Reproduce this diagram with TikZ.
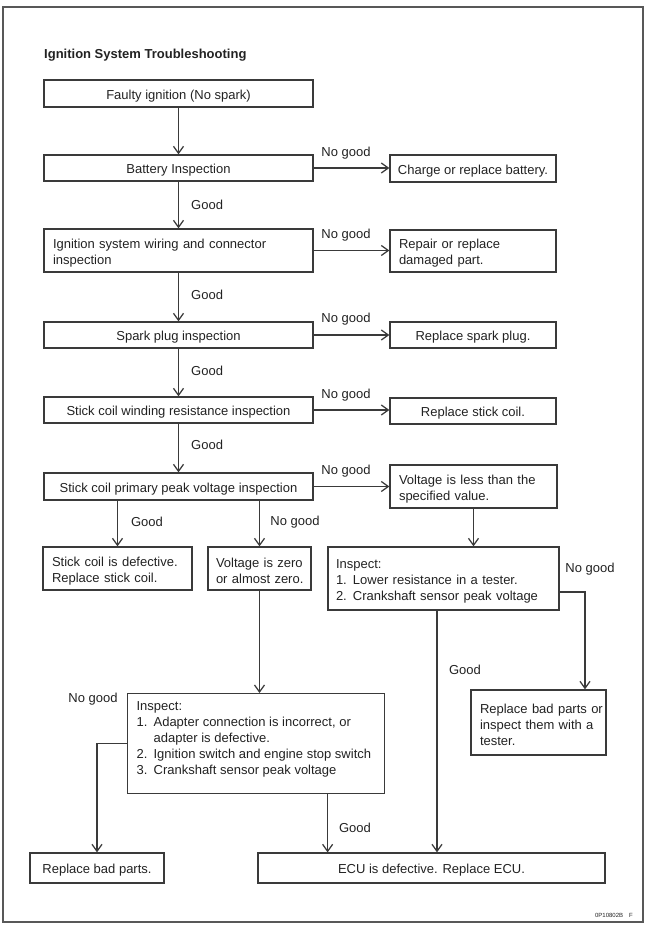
\documentclass[tikz,border=0pt]{standalone}
\usepackage{fontspec}
\setmainfont{Liberation Sans}
\usetikzlibrary{arrows.meta}
\definecolor{ink}{HTML}{3A3A3A}
\definecolor{txt}{HTML}{222222}
\newcommand\itm[1]{\makebox[17pt][l]{#1}}
\begin{document}
\begin{tikzpicture}[x=1pt,y=-1pt,
  every node/.style={font=\fontsize{13}{16}\selectfont, text=txt},
  frame/.style={draw=ink, line width=1.25pt, rectangle, inner sep=0pt},
  box/.style={frame, align=center, text height=14pt},
  lbox/.style={box, align=left, inner xsep=9pt},
  lab/.style={inner sep=0pt},
  arr/.style={draw=ink, line width=1.25pt, -{Straight Barb[length=7pt,width=10pt]}}]
\useasboundingbox (0,0) rectangle (650,929);
\draw[draw=ink!85, line width=1.25pt] (3,7) rectangle (643,922);

\node[font=\bfseries\fontsize{13}{16}\selectfont, anchor=west, inner sep=0pt] (title) at (44,55) {Ignition System Troubleshooting};

\node[box, minimum width=269pt, minimum height=27pt] (b1) at (178.5,93.5) {Faulty ignition (No spark)};
\node[box, minimum width=269pt, minimum height=26pt] (b2) at (178.5,168) {Battery Inspection};
\node[box, minimum width=166pt, minimum height=27pt] (r2) at (473,168.5) {Charge or replace battery.};
\node[lbox, text width=251pt, minimum height=43pt] (b3) at (178.5,250.5) {\mbox{Ignition system wiring and connector}\\inspection};
\node[lbox, text width=148pt, minimum height=42pt] (r3) at (473,251) {\mbox{Repair or replace}\\\mbox{damaged part.}};
\node[box, minimum width=269pt, minimum height=26pt] (b4) at (178.5,335) {Spark plug inspection};
\node[box, minimum width=166pt, minimum height=26pt] (r4) at (473,335) {Replace spark plug.};
\node[box, minimum width=269pt, minimum height=26pt] (b5) at (178.5,410) {Stick coil winding resistance inspection};
\node[box, minimum width=166pt, minimum height=26pt] (r5) at (473,411) {Replace stick coil.};
\node[box, minimum width=269pt, minimum height=27pt] (b6) at (178.5,486.5) {Stick coil primary peak voltage inspection};
\node[lbox, text width=149pt, minimum height=43pt] (r6) at (473.5,486.5) {\mbox{Voltage is less than the}\\\mbox{specified value.}};
\node[lbox, text width=131pt, minimum height=43pt] (c1) at (117.5,568.5) {\mbox{Stick coil is defective.}\\\mbox{Replace stick coil.}};
\node[lbox, text width=87pt, minimum height=43pt, inner xsep=8pt] (c2) at (259.5,568.5) {\mbox{Voltage is zero}\\\mbox{or almost zero.}};
\node[lbox, text width=215pt, minimum height=63pt, inner xsep=8pt] (c3) at (443.5,578.5) {Inspect:\\\mbox{\itm{1.}Lower resistance in a tester.}\\\mbox{\itm{2.}Crankshaft sensor peak voltage}};
\node[lbox, text width=117pt, minimum height=65pt] (d1) at (538.5,722.5) {\mbox{Replace bad parts or}\\\mbox{inspect them with a}\\tester.};
\node[frame, inner xsep=9pt, inner ysep=0pt, anchor=north west] (d2) at (127,693) {\parbox[c][100pt][t]{239pt}{\raggedright\vspace*{7.5pt}Inspect:\\
\mbox{\itm{1.}Adapter connection is incorrect, or}\\
\mbox{\hspace*{17pt}adapter is defective.}\\
\mbox{\itm{2.}Ignition switch and engine stop switch}\\
\mbox{\itm{3.}Crankshaft sensor peak voltage}}};
\node[box, minimum width=134pt, minimum height=30pt] (e1) at (97,868) {Replace bad parts.};
\node[box, minimum width=347pt, minimum height=30pt] (e2) at (431.5,868) {ECU is defective. Replace ECU.};

% connectors
\draw[arr] (b1.south) -- (b2.north);
\draw[arr] (b2.south) -- (b3.north);
\draw[arr] (b3.south) -- (b4.north);
\draw[arr] (b4.south) -- (b5.north);
\draw[arr] (b5.south) -- (b6.north);
\draw[arr] (b2.east) -- (b2.east -| r2.west);
\draw[arr] (b3.east) -- (b3.east -| r3.west);
\draw[arr] (b4.east) -- (b4.east -| r4.west);
\draw[arr] (b5.east) -- (b5.east -| r5.west);
\draw[arr] (b6.east) -- (b6.east -| r6.west);
\draw[arr] (c1.north |- b6.south) -- (c1.north);
\draw[arr] (c2.north |- b6.south) -- (c2.north);
\draw[arr] (r6.south) -- (r6.south |- c3.north);
\draw[arr] ([yshift=-13.5pt]c3.east) -| ([xshift=46.5pt]d1.north);
\draw[arr] ([xshift=-6.5pt]c3.south) -- ([xshift=-6.5pt]c3.south |- e2.north);
\draw[arr] (c2.south) -- (c2.south |- d2.north);
\draw[arr] (d2.west) -| (e1.north);
\draw[arr] ([xshift=71.5pt]d2.south) -- ([xshift=71.5pt]d2.south |- e2.north);

% labels
\node[lab] (n1) at (346,153) {No good};
\node[lab] (n2) at (346,235) {No good};
\node[lab] (n3) at (346,319) {No good};
\node[lab] (n4) at (346,395) {No good};
\node[lab] (n5) at (346,471) {No good};
\node[lab, anchor=west] (g1) at (191,205) {Good};
\node[lab, anchor=west] (g2) at (191,295) {Good};
\node[lab, anchor=west] (g3) at (191,371) {Good};
\node[lab, anchor=west] (g4) at (191,445) {Good};
\node[lab] (g5) at (147,522) {Good};
\node[lab] (n6) at (295,522) {No good};
\node[lab] (n7) at (590,569) {No good};
\node[lab] (g6) at (465,670) {Good};
\node[lab] (n8) at (93,699) {No good};
\node[lab] (g7) at (355,828) {Good};

\node[font=\fontsize{6}{7}\selectfont, anchor=east, inner sep=0pt] (code) at (633,915) {0P10802B\hspace{6pt}F};
\end{tikzpicture}
\end{document}
